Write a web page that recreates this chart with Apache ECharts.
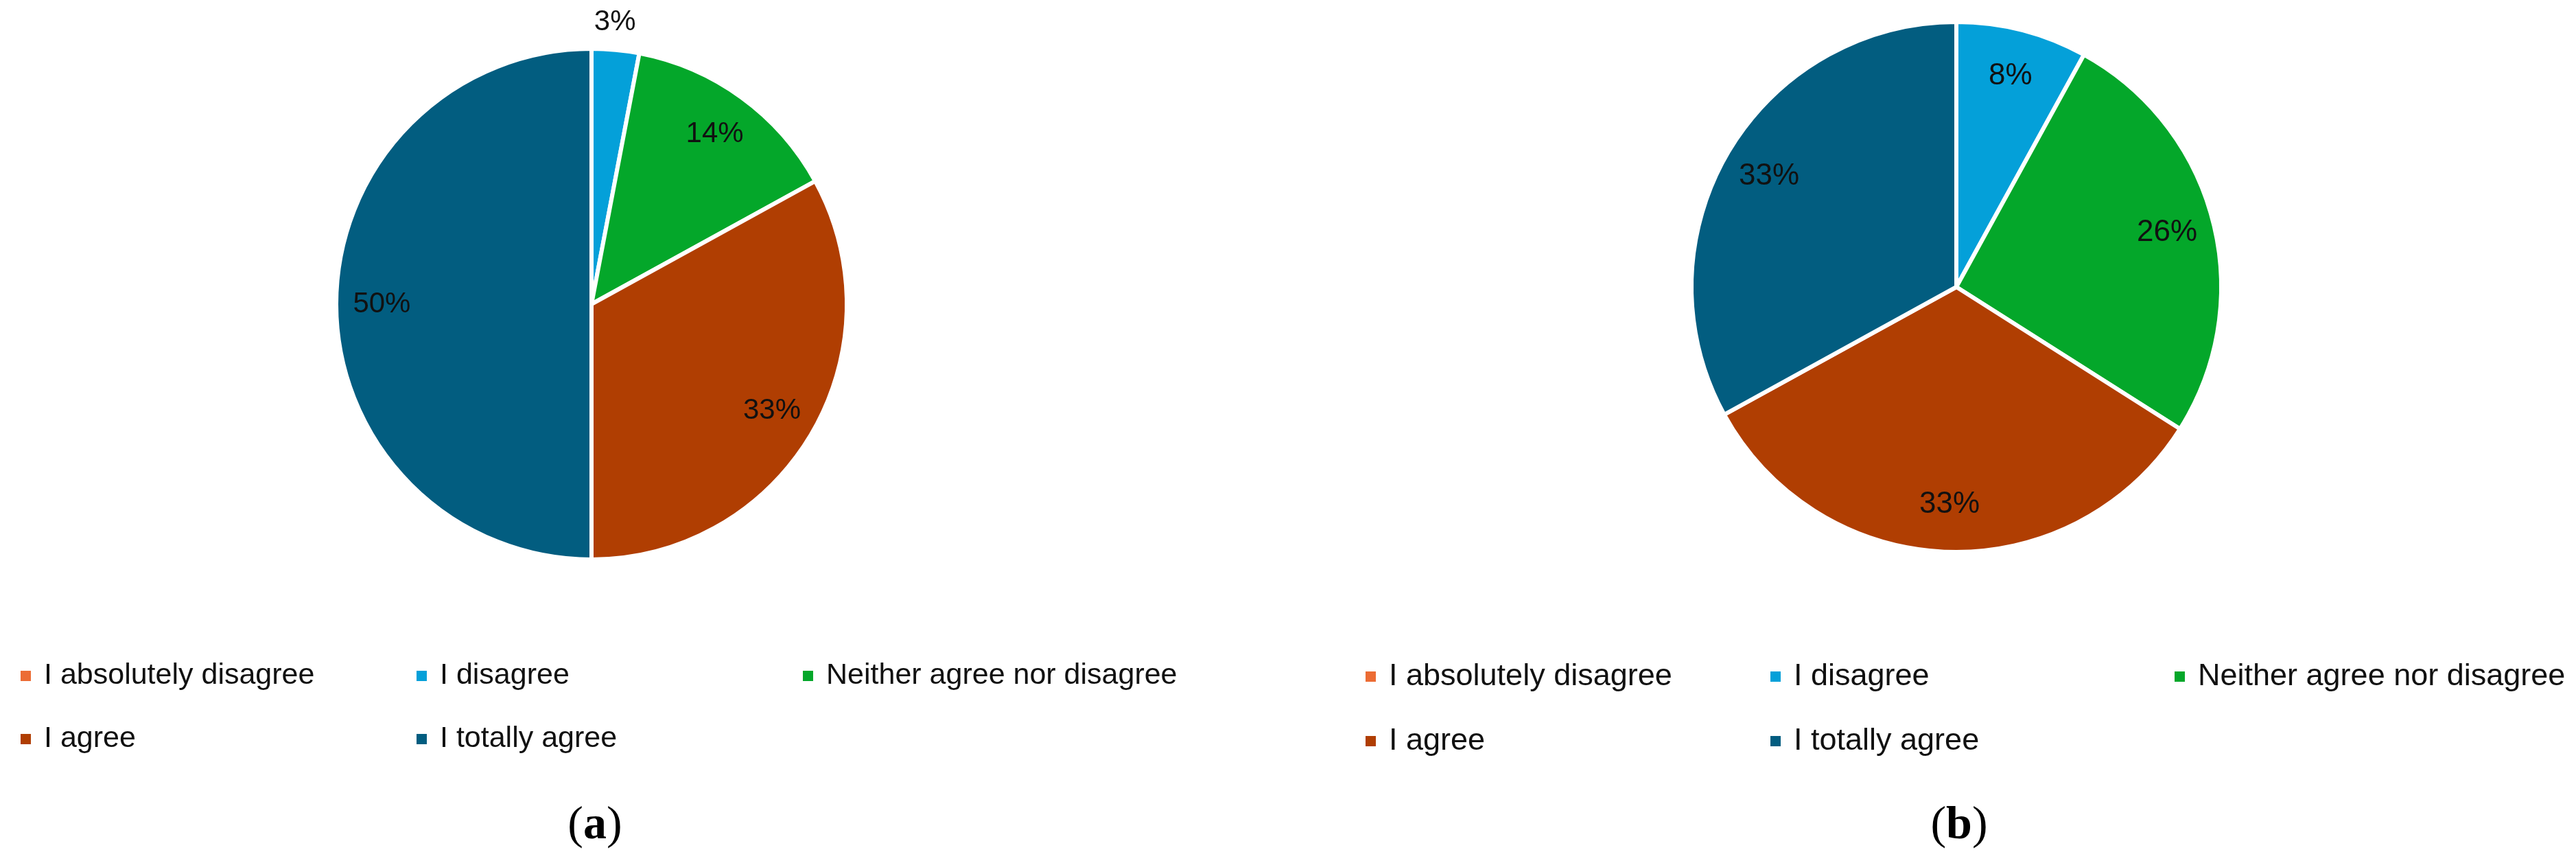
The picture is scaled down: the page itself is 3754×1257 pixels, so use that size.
<!DOCTYPE html>
<html>
<head>
<meta charset="utf-8">
<title>Agreement pies</title>
<script src="https://cdn.jsdelivr.net/npm/echarts@6/dist/echarts.min.js"></script>
<style>
  html, body { margin: 0; padding: 0; background: #fff; }
  #main { width: 3754px; height: 1257px; }
</style>
</head>
<body>
<div id="main"></div>
<script>
// answer categories (same for both panels)
var categories = ['I absolutely disagree', 'I disagree', 'Neither agree nor disagree', 'I agree', 'I totally agree'];
// percentages
var valuesA = [0, 3, 14, 33, 50];
var valuesB = [0, 8, 26, 33, 33];
var colors = ['#ec6c34', '#04a0d9', '#04a72a', '#b03e02', '#025d80'];

var chart = echarts.init(document.getElementById('main'), null, { renderer: 'canvas' });

var FONT = "'Liberation Sans', Arial, sans-serif";

// main pie (colour + white borders)
function pieSeries(values, center, r) {
  return {
    type: 'pie',
    center: center,
    radius: r,
    startAngle: 90,
    clockwise: true,
    silent: true,
    label: { show: false },
    labelLine: { show: false },
    itemStyle: { borderColor: '#fff', borderWidth: 6 },
    data: values.map(function (v, i) {
      return { name: categories[i], value: v, itemStyle: { color: colors[i] } };
    })
  };
}

// transparent ring only used to put the % labels at ~0.82 r
function labelSeries(values, center, r, fs) {
  return {
    type: 'pie',
    center: center,
    radius: [r * 0.64, r],
    startAngle: 90,
    clockwise: true,
    silent: true,
    avoidLabelOverlap: false,
    itemStyle: { color: 'rgba(0,0,0,0)', borderWidth: 0 },
    label: {
      show: true,
      position: 'inside',
      fontFamily: FONT,
      fontSize: fs,
      color: '#111',
      formatter: function (p) { return p.value ? p.value + '%' : ''; }
    },
    labelLine: { show: false },
    data: values.map(function (v, i) {
      var d = { name: categories[i], value: v };
      if (v > 0 && v < 5) {
        // small slice: label sits just above the rim
        d.label = { position: 'outside', distanceToLabelLine: -35 };
        d.labelLine = { show: false, length: 43, length2: 0 };
      }
      return d;
    })
  };
}

function legendCol(names, left, fs) {
  return {
    orient: 'vertical',
    left: left,
    top: 963,
    padding: 0,
    itemGap: 49,
    itemWidth: 17,
    itemHeight: 17,
    icon: 'rect',
    selectedMode: false,
    data: names,
    textStyle: { fontFamily: FONT, fontSize: fs, color: '#111', padding: [0, 0, 0, 13] }
  };
}

var capRich = {
  p: { fontFamily: "'Liberation Serif', 'Times New Roman', serif", fontSize: 68, color: '#000' },
  b: { fontFamily: "'Liberation Serif', 'Times New Roman', serif", fontSize: 68, fontWeight: 'bold', color: '#000' }
};

var option = {
  backgroundColor: '#fff',
  animation: false,
  legend: [
    legendCol([categories[0], categories[3]], 28, 43),
    legendCol([categories[1], categories[4]], 605, 43),
    legendCol([categories[2]], 1168, 43),
    legendCol([categories[0], categories[3]], 1988, 45),
    legendCol([categories[1], categories[4]], 2578, 45),
    legendCol([categories[2]], 3167, 45)
  ],
  graphic: [
    { type: 'text', x: 867, y: 1203, style: { text: '{p|(}{b|a}{p|)}', rich: capRich, align: 'center', verticalAlign: 'middle' } },
    { type: 'text', x: 2855, y: 1203, style: { text: '{p|(}{b|b}{p|)}', rich: capRich, align: 'center', verticalAlign: 'middle' } }
  ],
  series: [
    pieSeries(valuesA, [862, 443], 372),
    pieSeries(valuesB, [2851, 418], 386),
    labelSeries(valuesA, [862, 443], 369, 42),
    labelSeries(valuesB, [2851, 418], 383, 44)
  ]
};

chart.setOption(option);
</script>
</body>
</html>
